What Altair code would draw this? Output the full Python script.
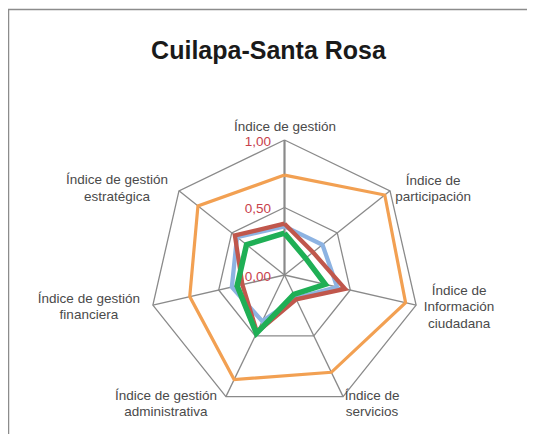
import altair as alt
import pandas as pd
import numpy as np

# ---------------- data ----------------
axis_names = [
    "Índice de gestión",
    "Índice de participación",
    "Índice de Información ciudadana",
    "Índice de servicios",
    "Índice de gestión administrativa",
    "Índice de gestión financiera",
    "Índice de gestión estratégica",
]
label_lines = [
    ["Índice de gestión"],
    ["Índice de", "participación"],
    ["Índice de", "Información", "ciudadana"],
    ["Índice de", "servicios"],
    ["Índice de gestión", "administrativa"],
    ["Índice de gestión", "financiera"],
    ["Índice de gestión", "estratégica"],
]
series_names = ["Serie 1", "Serie 2", "Serie 3", "Serie 4"]
serie_1 = [0.74, 0.95, 0.92, 0.80, 0.86, 0.72, 0.82]   # orange
serie_2 = [0.36, 0.36, 0.40, 0.19, 0.38, 0.40, 0.45]   # blue
serie_3 = [0.38, 0.27, 0.46, 0.20, 0.47, 0.32, 0.47]   # red
serie_4 = [0.31, 0.20, 0.31, 0.16, 0.48, 0.36, 0.36]   # green
series_values = [serie_1, serie_2, serie_3, serie_4]
series_colors = ["#F2A052", "#8DB3E2", "#C0574C", "#1FAF55"]
series_widths = [3.2, 4.3, 4.3, 5.5]

tick_values = [0.0, 0.5, 1.0]
tick_labels = ["0,00", "0,50", "1,00"]
ring_levels = [0.5, 1.0]
title_text = "Cuilapa-Santa Rosa"

# ---------------- geometry helpers ----------------
W, H = 519, 426
PX = 135.0          # pixels per unit radius
CX, CY = 276.5, 267.0
x_dom = [-CX / PX, (W - CX) / PX]
y_dom = [-(H - CY) / PX, CY / PX]
N = len(axis_names)
ang = np.arange(N) * 2 * np.pi / N


def polar(r, i):
    return r * np.sin(ang[i]), r * np.cos(ang[i])


xs = alt.Scale(domain=x_dom, nice=False, zero=False)
ys = alt.Scale(domain=y_dom, nice=False, zero=False)

# series rows
rows = []
for s, vals in zip(series_names, series_values):
    for k in range(N + 1):
        i = k % N
        x, y = polar(vals[i], i)
        rows.append({"serie": s, "order": k, "x": x, "y": y, "eje": axis_names[i], "valor": vals[i]})
sdf = pd.DataFrame(rows)

# grid rings
grows = []
for lv in ring_levels:
    for k in range(N + 1):
        i = k % N
        x, y = polar(lv, i)
        grows.append({"ring": lv, "order": k, "x": x, "y": y})
gdf = pd.DataFrame(grows)

# spokes
sp = []
for i in range(N):
    x, y = polar(1.0, i)
    sp.append({"eje": axis_names[i], "x": 0.0, "y": 0.0, "x2": x, "y2": y, "main": i == 0})
spdf = pd.DataFrame(sp)

# category labels (offsets in px from outer vertex to block centre)
label_offsets = [(0.5, -13), (43, -2), (43, 2), (29, 7.5), (-60, 7.5), (-64, 2), (-62, -2.5)]
LH = 16.5
lrows = []
for i, lines in enumerate(label_lines):
    vx, vy = polar(1.0, i)
    dx, dy = label_offsets[i]
    nl = len(lines)
    for j, t in enumerate(lines):
        py = dy + (j - (nl - 1) / 2) * LH
        lrows.append({"x": vx + dx / PX, "y": vy - py / PX, "text": t})
ldf = pd.DataFrame(lrows)

# tick labels
tdf = pd.DataFrame({"x": [-13.5 / PX] * len(tick_values),
                    "y": [v - 1.5 / PX for v in tick_values],
                    "text": tick_labels})

# ---------------- layers ----------------
grid = alt.Chart(gdf).mark_line(color="#8a8a8a", strokeWidth=1.3).encode(
    x=alt.X("x:Q", scale=xs, axis=None),
    y=alt.Y("y:Q", scale=ys, axis=None),
    detail="ring:N",
    order="order:Q",
)
spokes = alt.Chart(spdf).mark_rule(color="#8a8a8a").encode(
    x=alt.X("x:Q", scale=xs, axis=None),
    y=alt.Y("y:Q", scale=ys, axis=None),
    x2="x2:Q",
    y2="y2:Q",
    strokeWidth=alt.condition("datum.main", alt.value(2.2), alt.value(1.3)),
)

series_layers = []
for s, c, w in zip(series_names, series_colors, series_widths):
    series_layers.append(
        alt.Chart(sdf).transform_filter(alt.datum.serie == s).mark_line(
            color=c, strokeWidth=w, strokeJoin="miter"
        ).encode(
            x=alt.X("x:Q", scale=xs, axis=None),
            y=alt.Y("y:Q", scale=ys, axis=None),
            order="order:Q",
            tooltip=["serie:N", "eje:N", "valor:Q"],
        )
    )

labels = alt.Chart(ldf).mark_text(
    font="Liberation Sans", fontSize=13.5, color="#4a4a4a", align="center", baseline="middle"
).encode(
    x=alt.X("x:Q", scale=xs, axis=None),
    y=alt.Y("y:Q", scale=ys, axis=None),
    text="text:N",
)
ticks = alt.Chart(tdf).mark_text(
    font="Liberation Sans", fontSize=13.5, color="#C8414B", align="right", baseline="middle"
).encode(
    x=alt.X("x:Q", scale=xs, axis=None),
    y=alt.Y("y:Q", scale=ys, axis=None),
    text="text:N",
)

one = pd.DataFrame({"t": [title_text]})
title = alt.Chart(one).mark_text(
    font="Liberation Sans", fontSize=25, fontWeight="bold", color="#1a1a1a",
    align="center", baseline="alphabetic"
).encode(x=alt.value(260.5), y=alt.value(50.5), text="t:N")

frame_left = alt.Chart(one).mark_rule(color="#8c8c8c", strokeWidth=1.5).encode(
    x=alt.value(0.5), y=alt.value(1.5), y2=alt.value(H)
)
frame_top = alt.Chart(one).mark_rule(color="#8c8c8c", strokeWidth=1.5).encode(
    x=alt.value(0), x2=alt.value(W), y=alt.value(1.5)
)

chart = alt.layer(
    frame_left, frame_top, title, grid, spokes, *series_layers, ticks, labels
).properties(
    width=W, height=H, padding=0, autosize="none", background="white"
).configure_view(stroke=None)

chart.save("out.html", embed_options={"renderer": "svg", "actions": False})
